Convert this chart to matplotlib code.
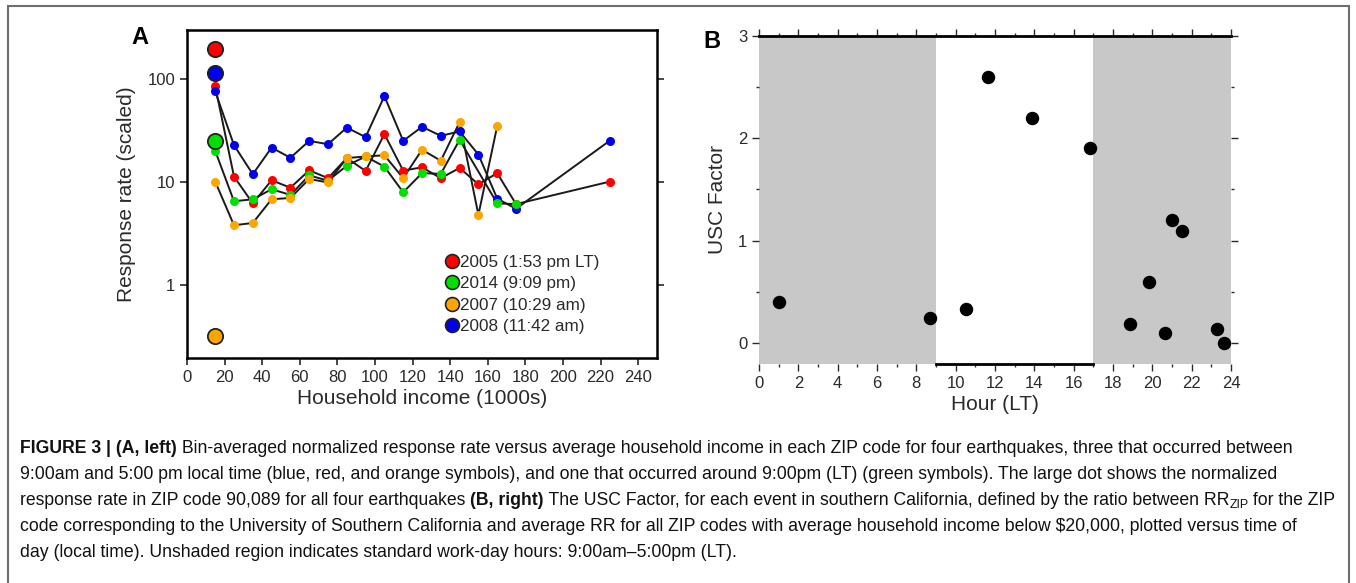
import matplotlib
matplotlib.use("Agg")
import matplotlib.pyplot as plt
from matplotlib.lines import Line2D
from matplotlib.patches import Rectangle
from matplotlib.ticker import FixedLocator, NullLocator, MultipleLocator, FixedFormatter

plt.rcParams['font.family'] = ['Liberation Sans', 'DejaVu Sans']

# ---------------- Data: panel A ----------------
income_bins = [15, 25, 35, 45, 55, 65, 75, 85, 95, 105, 115, 125, 135, 145, 155, 165, 175, 225]
rr_2005 = [85, 11.3, 6.2, 10.4, 8.8, 13.0, 10.9, 17.1, 12.8, 29.2, 12.9, 13.9, 10.9, 13.7, 9.5, 12.2, 6.1, 10.1]
rr_2008 = [76, 22.8, 11.9, 21.6, 17.2, 25.1, 23.3, 33.8, 27.3, 68.3, 25.1, 34.4, 28.1, 31.0, 18.5, 6.9, 5.5, 25.3]
income_2014 = [15, 25, 35, 45, 55, 65, 75, 85, 95, 105, 115, 125, 135, 145, 165, 175]
rr_2014 = [20.1, 6.5, 6.8, 8.5, 7.5, 11.6, 10.3, 14.4, 17.7, 14.1, 7.95, 12.2, 12.0, 25.7, 6.2, 6.1]
income_2007 = [15, 25, 35, 45, 55, 65, 75, 85, 95, 105, 115, 125, 135, 145, 155, 165]
rr_2007 = [10.1, 3.8, 4.0, 6.8, 7.0, 10.7, 9.9, 17.1, 17.7, 18.2, 10.9, 20.6, 16.1, 38.2, 4.8, 34.9]
usc_income = 15
usc_rr = {'2005': 196, '2008': 114, '2014': 25, '2007': 0.32}
legend_labels = ['2005 (1:53 pm LT)', '2014 (9:09 pm)', '2007 (10:29 am)', '2008 (11:42 am)']
x_ticks_a = list(range(0, 241, 20))
y_ticks_a = [1, 10, 100]

# ---------------- Data: panel B ----------------
hours = [1.0, 8.7, 10.5, 11.65, 13.9, 16.85, 18.85, 19.85, 20.65, 21.0, 21.5, 23.3, 23.65]
usc_factor = [0.40, 0.25, 0.33, 2.6, 2.2, 1.9, 0.19, 0.6, 0.10, 1.2, 1.1, 0.14, 0.0]
work_start, work_end = 9, 17

colors = {'2005': '#ff0000', '2014': '#00e000', '2007': '#ffa500', '2008': '#0000ee'}

W, H = 1356, 583
fig = plt.figure(figsize=(W / 100, H / 100), dpi=100)
fig.patch.set_facecolor('white')

def fx(px):
    return px / W

def fy(py):
    return 1 - py / H

# outer frame
fig.add_artist(Rectangle((fx(8), fy(600)), fx(1349) - fx(8), fy(6) - fy(600),
                         transform=fig.transFigure, fill=False, edgecolor='#6e6e6e', lw=1.5))

LABEL_FS = 15
TICK_FS = 12
TXT = '#2a2a2a'

# ---------------- Panel A ----------------
axA = fig.add_axes([fx(187), fy(358), fx(657) - fx(187), fy(30) - fy(358)])
axA.set_yscale('log')
axA.set_xlim(0, 250)
axA.set_ylim(0.195, 300)

series = [('2005', income_bins, rr_2005), ('2008', income_bins, rr_2008),
          ('2014', income_2014, rr_2014), ('2007', income_2007, rr_2007)]
for key, xs, ys in series:
    axA.plot(xs, ys, color='#1a1a1a', lw=1.4, zorder=2)
for key, xs, ys in series:
    axA.plot(xs, ys, ls='none', marker='o', ms=6.5, mfc=colors[key], mec='none', zorder=3)
for key in ['2005', '2008', '2014', '2007']:
    axA.plot([usc_income], [usc_rr[key]], ls='none', marker='o', ms=11, mfc=colors[key],
             mec='#222222', mew=1.3, zorder=4)

axA.xaxis.set_major_locator(FixedLocator(x_ticks_a))
axA.yaxis.set_major_locator(FixedLocator(y_ticks_a))
axA.yaxis.set_major_formatter(FixedFormatter(['1', '10', '100']))
axA.yaxis.set_minor_locator(NullLocator())
axA.tick_params(direction='out', length=5, width=1.2, labelsize=TICK_FS, colors=TXT,
                right=True, labelright=False)
for s in axA.spines.values():
    s.set_linewidth(1.8)
    s.set_color('black')
axA.set_xlabel('Household income (1000s)', fontsize=LABEL_FS, color=TXT, labelpad=3)
axA.set_ylabel('Response rate (scaled)', fontsize=LABEL_FS, color=TXT, labelpad=8)

handles = [Line2D([], [], ls='none', marker='o', ms=10, mfc=colors[k], mec='#222222', mew=1.2)
           for k in ['2005', '2014', '2007', '2008']]
axA.legend(handles, legend_labels, loc='upper left', bbox_to_anchor=(0.535, 0.335),
           frameon=False, fontsize=12.3, handlelength=0.8, handletextpad=0.05,
           labelspacing=0.38, borderaxespad=0, labelcolor=TXT)

fig.text(fx(140), fy(38), 'A', fontsize=17, weight='bold', ha='center', va='center')

# ---------------- Panel B ----------------
axB = fig.add_axes([fx(759), fy(364.3), fx(1231) - fx(759), fy(35.7) - fy(364.3)])
axB.set_xlim(0, 24)
axB.set_ylim(-0.205, 3)
axB.axvspan(0, work_start, color='#c8c8c8', lw=0, zorder=0)
axB.axvspan(work_end, 24, color='#c8c8c8', lw=0, zorder=0)
axB.scatter(hours, usc_factor, s=75, color='black', zorder=3, clip_on=False)

axB.spines['left'].set_visible(False)
axB.spines['right'].set_visible(False)
axB.spines['top'].set_linewidth(2)
axB.spines['bottom'].set_linewidth(2)
axB.spines['bottom'].set_bounds(work_start, work_end)

axB.xaxis.set_major_locator(MultipleLocator(2))
axB.xaxis.set_minor_locator(MultipleLocator(1))
axB.yaxis.set_major_locator(MultipleLocator(1))
axB.yaxis.set_minor_locator(MultipleLocator(0.5))
axB.tick_params(which='both', direction='out', colors=TXT, labelsize=TICK_FS,
                top=True, right=True, labeltop=False, labelright=False)
axB.tick_params(which='major', length=5, width=1)
axB.tick_params(which='minor', length=2, width=1)
axB.set_xlabel('Hour (LT)', fontsize=LABEL_FS, color=TXT, labelpad=3)
axB.set_ylabel('USC Factor', fontsize=LABEL_FS, color=TXT, labelpad=8)

fig.text(fx(712), fy(42), 'B', fontsize=17, weight='bold', ha='center', va='center')

# ---------------- Caption ----------------
cap_family = ['Liberation Sans Narrow', 'Liberation Sans']
lines = [
    [("FIGURE 3 | (A, left)", 'bold', 0), (" Bin-averaged normalized response rate versus average household income in each ZIP code for four earthquakes, three that occurred between", 'normal', 0)],
    [("9:00am and 5:00 pm local time (blue, red, and orange symbols), and one that occurred around 9:00pm (LT) (green symbols). The large dot shows the normalized", 'normal', 0)],
    [("response rate in ZIP code 90,089 for all four earthquakes ", 'normal', 0), ("(B, right)", 'bold', 0),
     (" The USC Factor, for each event in southern California, defined by the ratio between RR", 'normal', 0),
     ("ZIP", 'normal', 1), (" for the ZIP", 'normal', 0)],
    [(r"code corresponding to the University of Southern California and average RR for all ZIP codes with average household income below \$20,000, plotted versus time of", 'normal', 0)],
    [("day (local time). Unshaded region indicates standard work-day hours: 9:00am\u20135:00pm (LT).", 'normal', 0)],
]
baselines = [453, 479, 505, 531, 557]

renderer = fig.canvas.get_renderer()

def line_width(chunks, fs):
    total = 0
    for txt, weight, sub in chunks:
        t = fig.text(0, 0, txt, fontsize=fs * (0.7 if sub else 1.0), weight=weight, family=cap_family)
        total += t.get_window_extent(renderer).width
        t.remove()
    return total

widest = max(line_width(ch, 10) for ch in lines)
cap_fs = 10 * 1322 / widest

for chunks, base in zip(lines, baselines):
    x = 20
    for txt, weight, sub in chunks:
        size = cap_fs * (0.7 if sub else 1.0)
        yb = base + (3 if sub else 0)
        t = fig.text(fx(x), fy(yb), txt, fontsize=size, weight=weight, family=cap_family,
                     va='baseline', ha='left', color='#111111')
        x += t.get_window_extent(renderer).width

fig.savefig('out.png', dpi=100)
